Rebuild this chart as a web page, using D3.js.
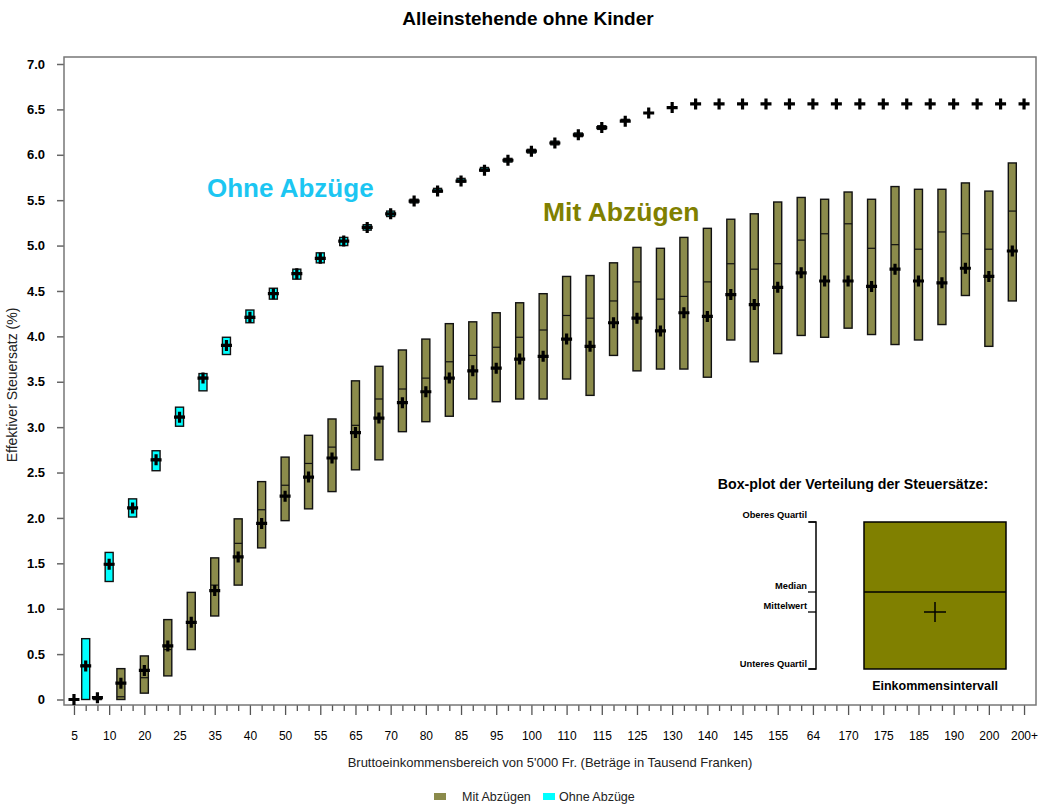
<!DOCTYPE html>
<html><head><meta charset="utf-8">
<script src="https://cdn.jsdelivr.net/npm/d3@7/dist/d3.min.js"></script>
<style>body{margin:0;background:#fff}text{font-family:"Liberation Sans",Arial,sans-serif}</style>
</head><body>
<svg id="chart" width="1044" height="809"></svg>
<script>
// Income groups (in thousand Fr.), as labelled in the original
const groupLabels = ["5","10","15","20","25","30","35","40","45","50","55","60","65","70","75","80","85","90","95","100",
  "105","110","115","120","125","130","135","140","145","150","155","64","165","170","175","180","185","190","195","200","200+"];

// Mit Abzügen (with deductions)
const mitQ1     = [0.00,0.00,0.00,0.07,0.26,0.55,0.92,1.26,1.67,1.97,2.10,2.29,2.53,2.64,2.95,3.06,3.12,3.31,3.28,3.31,
  3.31,3.53,3.35,3.79,3.62,3.64,3.64,3.55,3.96,3.72,3.81,4.01,3.99,4.09,4.02,3.91,3.96,4.13,4.45,3.89,4.39];
const mitMedian = [0.00,0.00,0.03,0.24,0.55,0.84,1.26,1.72,2.09,2.36,2.60,2.78,3.02,3.31,3.42,3.54,3.72,3.79,3.88,3.99,
  4.07,4.23,4.20,4.39,4.60,4.41,4.44,4.60,4.80,4.74,4.80,5.06,5.13,5.24,4.97,5.01,4.96,5.15,5.13,4.96,5.38];
const mitQ3     = [0.00,0.02,0.34,0.48,0.88,1.18,1.56,1.99,2.40,2.67,2.91,3.09,3.51,3.67,3.85,3.97,4.14,4.16,4.26,4.37,
  4.47,4.66,4.67,4.81,4.98,4.97,5.09,5.19,5.29,5.35,5.48,5.53,5.51,5.59,5.51,5.65,5.62,5.62,5.69,5.60,5.91];
const mitMean   = [0.00,0.02,0.18,0.32,0.59,0.85,1.20,1.57,1.94,2.24,2.45,2.66,2.94,3.10,3.27,3.39,3.54,3.62,3.65,3.75,
  3.78,3.97,3.89,4.15,4.20,4.06,4.26,4.22,4.46,4.35,4.54,4.70,4.61,4.61,4.55,4.74,4.61,4.59,4.75,4.66,4.94];

// Ohne Abzüge (without deductions)
const ohneQ1     = [0.00,1.30,2.01,2.52,3.01,3.40,3.80,4.15,4.41,4.63,4.81,5.00,5.17,5.32,5.47,5.59,5.70,5.82,5.92,6.02,
  6.11,6.20,6.28,6.37,6.46,6.52,6.56,6.56,6.56,6.56,6.56,6.56,6.56,6.56,6.56,6.56,6.56,6.56,6.56,6.56,6.56];
const ohneMedian = [0.38,1.48,2.10,2.65,3.12,3.55,3.91,4.22,4.47,4.69,4.87,5.05,5.20,5.35,5.49,5.61,5.72,5.84,5.94,6.04,
  6.13,6.22,6.30,6.38,6.46,6.52,6.56,6.56,6.56,6.56,6.56,6.56,6.56,6.56,6.56,6.56,6.56,6.56,6.56,6.56,6.56];
const ohneQ3     = [0.67,1.62,2.21,2.74,3.22,3.59,3.99,4.29,4.53,4.74,4.92,5.09,5.23,5.38,5.51,5.63,5.74,5.86,5.96,6.06,
  6.15,6.24,6.32,6.39,6.46,6.52,6.56,6.56,6.56,6.56,6.56,6.56,6.56,6.56,6.56,6.56,6.56,6.56,6.56,6.56,6.56];
const ohneMean   = [0.37,1.49,2.11,2.64,3.11,3.54,3.90,4.21,4.47,4.69,4.86,5.05,5.20,5.35,5.49,5.60,5.71,5.83,5.94,6.04,
  6.13,6.22,6.30,6.37,6.46,6.52,6.56,6.56,6.56,6.56,6.56,6.56,6.56,6.56,6.56,6.56,6.56,6.56,6.56,6.56,6.56];

const yTicks = [0,0.5,1,1.5,2,2.5,3,3.5,4,4.5,5,5.5,6,6.5,7];
const yTickLabels = ["0","0.5","1.0","1.5","2.0","2.5","3.0","3.5","4.0","4.5","5.0","5.5","6.0","6.5","7.0"];

const svg = d3.select("#chart");
const L = 64, R = 1036, T = 57, B = 705;
const nSlots = groupLabels.length * 2;
const x = d3.scaleLinear().domain([-0.85, nSlots + 0.02]).range([L, R]);
const y = d3.scaleLinear().domain([0, 7]).range([699.5, 64]);

const mitFill = "#8b8b4b", ohneFill = "#00ffff";

// Title
svg.append("text").attr("x", 528).attr("y", 25).attr("text-anchor", "middle")
  .attr("font-weight", "bold").attr("font-size", 19).text("Alleinstehende ohne Kinder");

// Y axis
const yAxis = svg.append("g").attr("transform", `translate(${L},0)`)
  .call(d3.axisLeft(y).tickValues(yTicks).tickFormat((d, i) => yTickLabels[i]).tickSize(7).tickPadding(12));
yAxis.select(".domain").remove();
yAxis.selectAll("line").attr("stroke", "#666").attr("stroke-width", 1.5);
yAxis.selectAll("text").attr("font-size", 13).attr("font-weight", "bold").attr("fill", "#000")
  .attr("font-family", "'Liberation Sans',Arial,sans-serif");

// X axis
const slots = d3.range(nSlots);
const xAxis = svg.append("g").attr("transform", `translate(0,${B})`)
  .call(d3.axisBottom(x).tickValues(slots)
    .tickFormat(s => s % 3 === 0 ? groupLabels[Math.floor(s / 2)] : "").tickSize(6));
xAxis.select(".domain").remove();
xAxis.selectAll(".tick line").attr("stroke", "#555").attr("stroke-width", 1.3)
  .attr("y2", s => s % 3 === 0 ? 10 : 6);
xAxis.selectAll("text").attr("font-size", 12).attr("fill", "#000").attr("y", 35).attr("dy", 0)
  .attr("font-family", "'Liberation Sans',Arial,sans-serif");

// Frame
svg.append("rect").attr("x", L).attr("y", T).attr("width", R - L).attr("height", B - T)
  .attr("fill", "none").attr("stroke", "#777").attr("stroke-width", 1.5);

// Axis titles
svg.append("text").attr("transform", "translate(17,385) rotate(-90)").attr("text-anchor", "middle")
  .attr("font-size", 14).attr("fill", "#222").text("Effektiver Steuersatz (%)");
svg.append("text").attr("x", 550).attr("y", 767).attr("text-anchor", "middle")
  .attr("font-size", 13).attr("fill", "#222")
  .text("Bruttoeinkommensbereich von 5'000 Fr. (Beträge in Tausend Franken)");

// Build series records
const mitData = groupLabels.map((g, i) => ({slot: 2 * i, q1: mitQ1[i], med: mitMedian[i], q3: mitQ3[i], mean: mitMean[i]}));
const ohneData = groupLabels.map((g, i) => ({slot: 2 * i + 1, q1: ohneQ1[i], med: ohneMedian[i], q3: ohneQ3[i], mean: ohneMean[i]}));

const boxW = 8;
function drawSeries(data, fill) {
  const g = svg.append("g");
  const boxes = data.filter(d => d.q3 > d.q1);
  g.selectAll("rect").data(boxes).join("rect")
    .attr("x", d => x(d.slot) - boxW / 2).attr("width", boxW)
    .attr("y", d => y(d.q3)).attr("height", d => y(d.q1) - y(d.q3))
    .attr("fill", fill).attr("stroke", "#111").attr("stroke-width", 1.4);
  g.selectAll("line.med").data(boxes).join("line").attr("class", "med")
    .attr("x1", d => x(d.slot) - boxW / 2).attr("x2", d => x(d.slot) + boxW / 2)
    .attr("y1", d => y(d.med)).attr("y2", d => y(d.med))
    .attr("stroke", "#111").attr("stroke-width", 1.2);
  return g;
}
drawSeries(mitData, mitFill);
drawSeries(ohneData, ohneFill);

// Mean crosses
const crossG = svg.append("g");
crossG.selectAll("path").data(mitData.concat(ohneData)).join("path")
  .attr("d", d => `M${x(d.slot) - 5.5},${y(d.mean)}H${x(d.slot) + 5.5}M${x(d.slot)},${y(d.mean) - 5.5}V${y(d.mean) + 5.5}`)
  .attr("stroke", "#000").attr("stroke-width", 3.2).attr("fill", "none");

// Big series labels
svg.append("text").attr("x", 207).attr("y", 197).attr("font-size", 26).attr("font-weight", "bold")
  .attr("fill", "#1cc6f2").text("Ohne Abzüge");
svg.append("text").attr("x", 543).attr("y", 221).attr("font-size", 26.5).attr("font-weight", "bold")
  .attr("fill", "#808000").text("Mit Abzügen");

// Box-plot explanation inset
const ins = svg.append("g");
ins.append("text").attr("x", 853).attr("y", 489).attr("text-anchor", "middle").attr("font-size", 14.2)
  .attr("font-weight", "bold").text("Box-plot der Verteilung der Steuersätze:");
ins.append("rect").attr("x", 864).attr("y", 522).attr("width", 142).attr("height", 147)
  .attr("fill", "#808000").attr("stroke", "#000").attr("stroke-width", 1.5);
ins.append("line").attr("x1", 864).attr("x2", 1006).attr("y1", 592).attr("y2", 592)
  .attr("stroke", "#000").attr("stroke-width", 1.3);
ins.append("path").attr("d", "M924,612H946M935,602V622").attr("stroke", "#000").attr("stroke-width", 1.5);
ins.append("path").attr("d", "M809,522H816V669H809").attr("fill", "none").attr("stroke", "#000").attr("stroke-width", 1.5);
const insLabels = [["Oberes Quartil", 522, 518], ["Median", 592, 589], ["Mittelwert", 612, 609], ["Unteres Quartil", 669, 667]];
insLabels.forEach(([t, ly, by]) => {
  ins.append("text").attr("x", 807).attr("y", by).attr("text-anchor", "end").attr("font-size", 9.3)
    .attr("font-weight", "bold").text(t);
  ins.append("line").attr("x1", 808).attr("x2", 816).attr("y1", ly).attr("y2", ly)
    .attr("stroke", "#000").attr("stroke-width", 1.3);
});
ins.append("text").attr("x", 935).attr("y", 690).attr("text-anchor", "middle").attr("font-size", 12.5)
  .attr("font-weight", "bold").text("Einkommensintervall");

// Legend
const legendItems = [["Mit Abzügen", mitFill, 434, 462], ["Ohne Abzüge", ohneFill, 543, 559]];
legendItems.forEach(([t, c, rx, tx]) => {
  svg.append("rect").attr("x", rx).attr("y", 793).attr("width", 12).attr("height", 7).attr("fill", c);
  svg.append("text").attr("x", tx).attr("y", 801).attr("font-size", 12.5).attr("fill", "#222").text(t);
});
</script>
</body></html>
